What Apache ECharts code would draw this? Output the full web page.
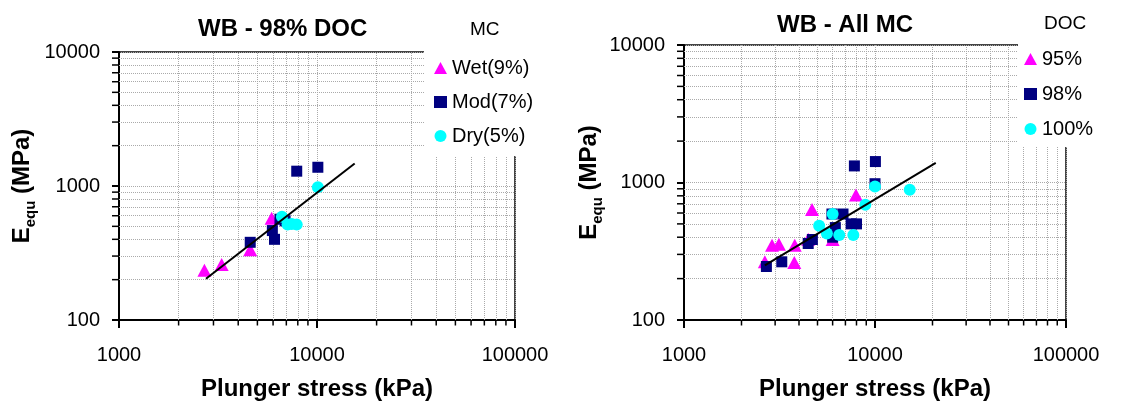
<!DOCTYPE html>
<html>
<head>
<meta charset="utf-8">
<script src="https://cdn.jsdelivr.net/npm/echarts@6/dist/echarts.min.js"></script>
<style>
html, body { margin: 0; padding: 0; background: #fff; }
#chart { width: 1127px; height: 406px; }
</style>
</head>
<body>
<div id="chart"></div>
<script>
// left plot - WB 98% DOC, by moisture content
var wet98 = [[2700, 235], [3300, 260], [4600, 335], [5900, 575]];
var mod98 = [[4600, 380], [5950, 465], [6100, 400], [6500, 565], [6900, 550], [7900, 1290], [10100, 1380]];
var dry98 = [[6650, 590], [7100, 515], [7450, 520], [7900, 515], [10100, 980]];
var trend98 = [[2750, 203], [15500, 1470]];

// right plot - WB all MC, by degree of compaction
var doc95 = [[2650, 265], [2890, 350], [3140, 355], [3800, 350], [3780, 262], [4470, 387], [4680, 635], [6000, 385], [7950, 810]];
var doc98 = [[2700, 245], [3250, 265], [4470, 360], [4700, 385], [5950, 590], [6800, 590], [6200, 470], [6000, 400], [7500, 500], [8000, 500], [7800, 1320], [10050, 1420], [10000, 980]];
var doc100 = [[6000, 590], [5100, 485], [5600, 425], [6500, 415], [7700, 415], [8900, 690], [10000, 935], [15200, 885]];
var trendAll = [[2650, 250], [20800, 1390]];

// axes
var xMin = 1000, xMax = 100000;
var yMin = 100, yMax = 10000;
var xMinor = [2000, 3000, 4000, 5000, 6000, 7000, 8000, 9000, 20000, 30000, 40000, 50000, 60000, 70000, 80000, 90000];
var yMinor = [200, 300, 400, 500, 600, 700, 800, 900, 2000, 3000, 4000, 5000, 6000, 7000, 8000, 9000];

var FONT = "'Liberation Sans', Arial, sans-serif";
var MAGENTA = '#ff00ff', NAVY = '#000080', CYAN = '#00ffff';

var chart = echarts.init(document.getElementById('chart'));

function xAxisFor(gi) {
  return {
    type: 'log', logBase: 10, gridIndex: gi, min: xMin, max: xMax,
    name: 'Plunger stress (kPa)', nameLocation: 'middle', nameGap: 57,
    nameTextStyle: { fontFamily: FONT, fontSize: 24, fontWeight: 'bold', color: '#000' },
    axisLine: { lineStyle: { color: '#000', width: 2 } },
    axisTick: { length: 8, lineStyle: { color: '#000', width: 2 } },
    axisLabel: { margin: 25, fontFamily: FONT, fontSize: 20, color: '#000', formatter: function (v) { return String(v); } },
    splitLine: { show: true, lineStyle: { color: '#aaa', type: 'dotted', width: 1 } }
  };
}

function yAxisFor(gi, gap) {
  return {
    type: 'log', logBase: 10, gridIndex: gi, min: yMin, max: yMax,
    name: '{e|E}{s|equ}{m| (MPa)}', nameLocation: 'middle', nameGap: gap,
    nameTextStyle: {
      rich: {
        e: { fontFamily: FONT, fontSize: 24, fontWeight: 'bold', color: '#000' },
        s: { fontFamily: FONT, fontSize: 15, fontWeight: 'bold', color: '#000', verticalAlign: 'bottom', padding: [0, 0, -4, 0] },
        m: { fontFamily: FONT, fontSize: 24, fontWeight: 'bold', color: '#000' }
      }
    },
    axisLine: { lineStyle: { color: '#000', width: 2 } },
    axisTick: { length: 7, lineStyle: { color: '#000', width: 2 } },
    axisLabel: { margin: 19, fontFamily: FONT, fontSize: 20, color: '#000', formatter: function (v) { return String(v); } },
    splitLine: { show: true, lineStyle: { color: '#aaa', type: 'dotted', width: 1 } }
  };
}

// minor gridlines + minor ticks, hung on an empty series
function gridSeries(gi) {
  var lines = xMinor.map(function (v) { return { xAxis: v }; })
    .concat(yMinor.map(function (v) { return { yAxis: v }; }));
  var ticks = yMinor.map(function (v) {
    return { coord: [xMin, v], symbol: 'rect', symbolSize: [6, 1.5], symbolOffset: [-4, 0] };
  }).concat(xMinor.map(function (v) {
    return { coord: [v, yMin], symbol: 'rect', symbolSize: [1.5, 5], symbolOffset: [0, 3] };
  }));
  return {
    type: 'scatter', name: 'grid' + gi, xAxisIndex: gi, yAxisIndex: gi, data: [], silent: true,
    markLine: {
      silent: true, z: 1, animation: false, symbol: ['none', 'none'],
      label: { show: false },
      lineStyle: { color: '#aaa', type: 'dotted', width: 1 },
      data: lines
    },
    markPoint: {
      silent: true, z: 1, animation: false,
      label: { show: false },
      itemStyle: { color: '#000' },
      data: ticks
    }
  };
}

function pts(name, gi, data, symbol, size, color) {
  return {
    type: 'scatter', name: name, xAxisIndex: gi, yAxisIndex: gi,
    data: data, symbol: symbol, symbolSize: size, z: 3,
    itemStyle: { color: color, opacity: 1 }
  };
}

function trend(name, gi, data) {
  return {
    type: 'line', name: name, xAxisIndex: gi, yAxisIndex: gi, data: data,
    showSymbol: false, symbol: 'none', z: 4,
    lineStyle: { color: '#000', width: 2 }
  };
}

var legendText = { fontFamily: FONT, fontSize: 20, color: '#000' };

chart.setOption({
  animation: false,
  backgroundColor: '#fff',
  title: [
    { text: 'WB - 98% DOC', left: 193, top: 12, textStyle: { fontFamily: FONT, fontSize: 24, fontWeight: 'bold', color: '#000' } },
    { text: 'WB - All MC', left: 772, top: 8, textStyle: { fontFamily: FONT, fontSize: 24, fontWeight: 'bold', color: '#000' } },
    { text: 'MC', left: 465, top: 15, textStyle: { fontFamily: FONT, fontSize: 19, fontWeight: 'normal', color: '#000' } },
    { text: 'DOC', left: 1039, top: 9, textStyle: { fontFamily: FONT, fontSize: 19, fontWeight: 'normal', color: '#000' } }
  ],
  grid: [
    { left: 119, right: 612, top: 52, height: 270, show: true, borderColor: '#444', borderWidth: 2 },
    { left: 684, right: 61, top: 45, height: 278, show: true, borderColor: '#444', borderWidth: 2 }
  ],
  legend: [
    {
      orient: 'vertical', left: 424, top: 44, padding: [14, 20, 10, 10],
      itemWidth: 13, itemHeight: 12, itemGap: 14, backgroundColor: '#fff',
      textStyle: legendText,
      data: [{ name: 'Wet(9%)', icon: 'triangle' }, { name: 'Mod(7%)', icon: 'rect' }, { name: 'Dry(5%)', icon: 'circle' }]
    },
    {
      orient: 'vertical', left: 1018, top: 35, padding: [14, 20, 8, 6],
      itemWidth: 13, itemHeight: 12, itemGap: 15, backgroundColor: '#fff',
      textStyle: legendText,
      data: [{ name: '95%', icon: 'triangle' }, { name: '98%', icon: 'rect' }, { name: '100%', icon: 'circle' }]
    }
  ],
  xAxis: [xAxisFor(0), xAxisFor(1)],
  yAxis: [yAxisFor(0, 85), yAxisFor(1, 80)],
  series: [
    gridSeries(0),
    gridSeries(1),
    pts('Wet(9%)', 0, wet98, 'triangle', [14, 13], MAGENTA),
    pts('Mod(7%)', 0, mod98, 'rect', 11, NAVY),
    pts('Dry(5%)', 0, dry98, 'circle', 12, CYAN),
    trend('trend98', 0, trend98),
    pts('95%', 1, doc95, 'triangle', [14, 13], MAGENTA),
    pts('98%', 1, doc98, 'rect', 11, NAVY),
    pts('100%', 1, doc100, 'circle', 12, CYAN),
    trend('trendAll', 1, trendAll)
  ]
});
</script>
</body>
</html>
